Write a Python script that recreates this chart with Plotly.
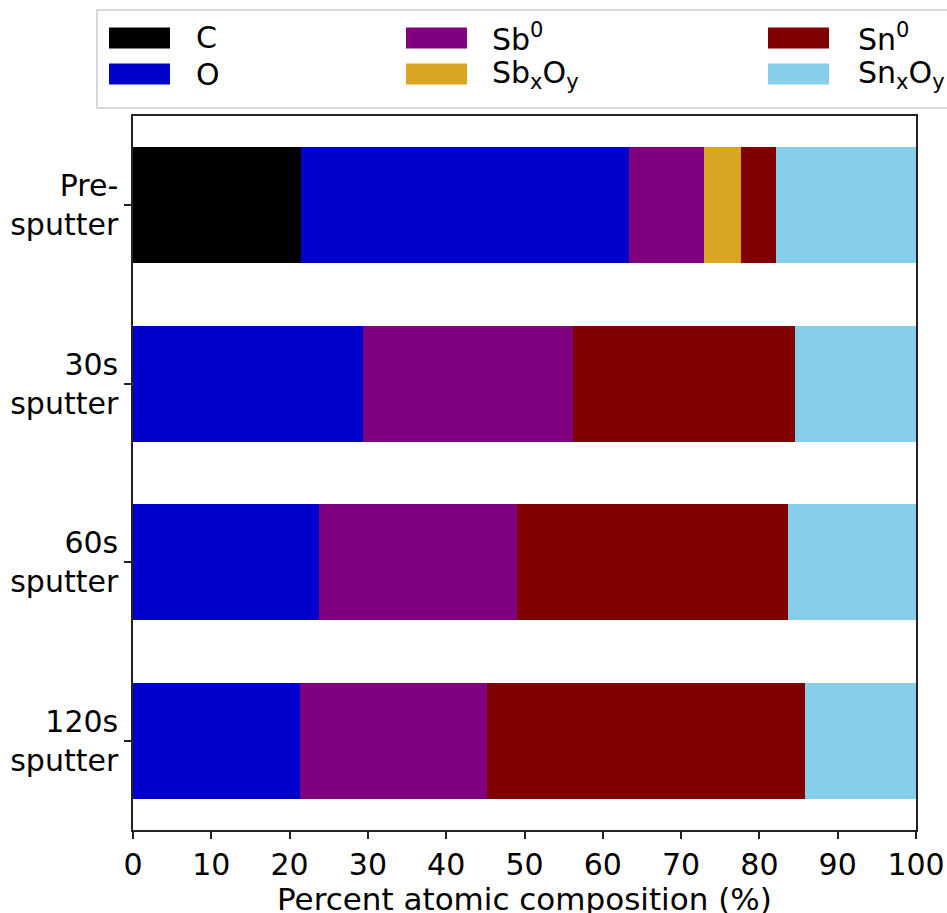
import plotly.graph_objects as go

# Sputter stages (top to bottom)
stages = ["Pre-<br>sputter", "30s<br>sputter", "60s<br>sputter", "120s<br>sputter"]

# Percent atomic composition of each species per stage
c_vals = [21.5, 0.0, 0.0, 0.0]
o_vals = [41.85, 29.4, 23.75, 21.35]
sb0_vals = [9.55, 26.8, 25.35, 23.85]
sbxoy_vals = [4.75, 0.0, 0.0, 0.0]
sn0_vals = [4.45, 28.4, 34.6, 40.6]
snxoy_vals = [17.9, 15.4, 16.3, 14.2]

series_names = ["C", "O", "Sb<sup>0</sup>", "Sb<sub>x</sub>O<sub>y</sub>",
                "Sn<sup>0</sup>", "Sn<sub>x</sub>O<sub>y</sub>"]
series_values = [c_vals, o_vals, sb0_vals, sbxoy_vals, sn0_vals, snxoy_vals]
series_colors = ["#000000", "#0000CD", "#800080", "#DAA520", "#800000", "#87CEEB"]

x_ticks = list(range(0, 101, 10))
x_title = "Percent atomic composition (%)"

W, H = 947, 913
L, R, T, B = 133, 31, 116, 83
FONT = "DejaVu Sans"
FS = 30

fig = go.Figure()
for name, vals, col in zip(series_names, series_values, series_colors):
    fig.add_trace(go.Bar(
        y=stages, x=vals, name=name, orientation="h",
        marker=dict(color=col, line=dict(width=0)),
        width=0.65, showlegend=False,
    ))

# legend and axis title drawn in paper coordinates
pw, ph = W - L - R, H - T - B


def px_x(p):
    return (p - L) / pw


def px_y(p):
    return (H - B - p) / ph


shapes = [dict(type="rect", xref="paper", yref="paper",
               x0=px_x(97), x1=px_x(960), y0=px_y(108), y1=px_y(10),
               line=dict(color="#cccccc", width=1.5), fillcolor="white", layer="above")]
annotations = []
col_swatch_x = [109, 406, 768]
col_text_x = [194, 490, 856]
row_y = [38, 74]
legend_order = [(0, 0), (0, 1), (1, 0), (1, 1), (2, 0), (2, 1)]  # (column, row) per series
for (ci, ri), name, col in zip(legend_order, series_names, series_colors):
    sx = col_swatch_x[ci]
    cy = row_y[ri]
    shapes.append(dict(type="rect", xref="paper", yref="paper",
                       x0=px_x(sx), x1=px_x(sx + 61), y0=px_y(cy + 10.5), y1=px_y(cy - 10.5),
                       line=dict(width=0), fillcolor=col, layer="above"))
    annotations.append(dict(xref="paper", yref="paper", x=px_x(col_text_x[ci]), y=px_y(cy),
                            text=name, showarrow=False, xanchor="left", yanchor="middle",
                            font=dict(family=FONT, size=FS, color="black")))

annotations.append(dict(xref="paper", yref="paper", x=0.5, y=px_y(899), text=x_title,
                        showarrow=False, xanchor="center", yanchor="middle",
                        font=dict(family=FONT, size=31, color="black")))

fig.update_layout(
    width=W, height=H, autosize=False,
    margin=dict(l=L, r=R, t=T, b=B, pad=0, autoexpand=False),
    barmode="stack", bargap=0.35,
    plot_bgcolor="white", paper_bgcolor="white",
    font=dict(family=FONT, size=FS, color="black"),
    shapes=shapes, annotations=annotations,
    xaxis=dict(range=[0, 100], tickvals=x_ticks, ticktext=[str(v) for v in x_ticks],
               ticks="outside", ticklen=7, tickwidth=1.5, tickcolor="#222",
               showline=True, mirror=True, linecolor="#222", linewidth=1.5,
               showgrid=False, zeroline=False, automargin=False,
               tickfont=dict(size=FS)),
    yaxis=dict(autorange="reversed", categoryorder="array", categoryarray=stages,
               ticks="outside", ticklen=7, tickwidth=1.5, tickcolor="#222",
               showline=True, mirror=True, linecolor="#222", linewidth=1.5,
               showgrid=False, zeroline=False, tickfont=dict(size=FS),
               ticklabelstandoff=0, automargin=False),
)

fig.write_html("out.html")
